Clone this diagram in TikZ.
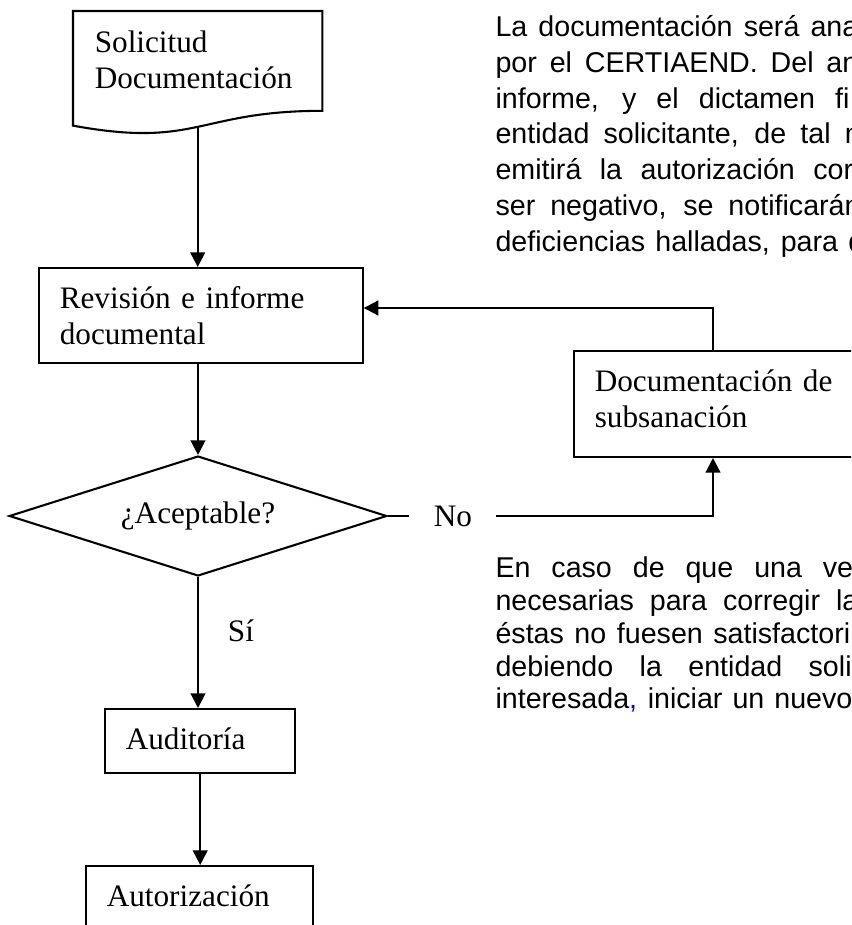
\documentclass[tikz,border=0pt]{standalone}
\usepackage{fontspec}
\setmainfont{Liberation Serif}
\newfontfamily\arialfont{Liberation Sans}
\usetikzlibrary{arrows.meta, shapes.geometric}

\tikzset{
    boxnode/.style={draw, line width=0.8pt, rectangle, anchor=north west,
        inner xsep=0.28cm, inner ysep=0pt, align=left, text height=0.54cm,
        font=\fontsize{12}{14}\selectfont},
    flow/.style={line width=0.8pt, -{Triangle[length=5.6pt, width=5.6pt]}},
    lbl/.style={inner sep=0pt, font=\fontsize{12}{14}\selectfont},
    para/.style={anchor=base west, inner sep=0pt, font=\arialfont\fontsize{11}{13}\selectfont},
}

\begin{document}
\begin{tikzpicture}[x=0.0135cm, y=-0.0135cm]
    \useasboundingbox (0,0) rectangle (851,925);
    \clip (0,0) rectangle (851,925);

    % Flow chart
    \node[boxnode, draw=none, text width=2.78cm, text depth=0.78cm] (sol) at (73,11) {Solicitud\\Documentación};
    \draw[line width=0.8pt] (sol.north west) -- (sol.north east) -- (sol.south east)
        .. controls (sol.south) and ([yshift=-0.51cm]sol.south) .. ([yshift=-0.2cm]sol.south west)
        coordinate[pos=0.5] (solbot) -- cycle;

    \node[boxnode, text width=3.81cm, text depth=0.74cm] (rev) at (38,267) {Revisión e informe\\documental};
    \node[diamond, draw, line width=0.8pt, shape aspect=3.15, minimum width=5.1cm, minimum height=1.62cm,
        inner sep=0pt, font=\fontsize{12}{14}\selectfont] (acep) at (198,516) {¿Aceptable?};
    \node[boxnode, text width=4.52cm, text depth=0.89cm] (sub) at (573,350) {Documentación de\\subsanación};
    \node[boxnode, text width=2.01cm, text depth=0.32cm] (aud) at (104,708) {Auditoría};
    \node[boxnode, text width=2.51cm, text depth=0.81cm] (aut) at (85,865) {Autorización};

    \coordinate (noturn) at (713,516);
    \coordinate (back) at (713,308);

    \draw[flow] (solbot) -- (solbot |- rev.north);
    \draw[flow] (acep.north |- rev.south) -- (acep.north);
    \draw[flow] (acep.south) -- node[lbl, pos=0.41, anchor=west, xshift=0.39cm] (si) {Sí} (aud.north -| acep.south);
    \draw[flow] (aud.south) -- (aut.north -| aud.south);
    \draw[flow] (acep.east) -- node[lbl, pos=0.2, fill=white, inner xsep=0.33cm] (no) {No} (noturn) -- (noturn |- sub.south);
    \draw[flow] (noturn |- sub.north) -- (back) -- (back -| rev.east);

    % Text beside the chart
    \foreach \yy/\ww/\txt [count=\n] in {37/4.90/{La documentación será ana},
            73/4.90/{por el CERTIAEND. Del an},
            109/4.78/{informe, y el dictamen fi},
            144/5.04/{entidad solicitante, de tal m},
            180/4.83/{emitirá la autorización cor},
            216/4.93/{ser negativo, se notificarán},
            252/4.98/{deficiencias halladas, para q}}
        \node[para] (top\n) at (495,\yy) {\makebox[\ww cm][s]{\txt}};

    \foreach \yy/\ww/\txt [count=\n] in {577/4.83/{En caso de que una ve},
            610/4.90/{necesarias para corregir la},
            643/4.79/{éstas no fuesen satisfactori},
            676/4.81/{debiendo la entidad soli},
            708/4.82/{interesada{\color{blue},} iniciar un nuevo}}
        \node[para] (bot\n) at (495,\yy) {\makebox[\ww cm][s]{\txt}};
\end{tikzpicture}
\end{document}
